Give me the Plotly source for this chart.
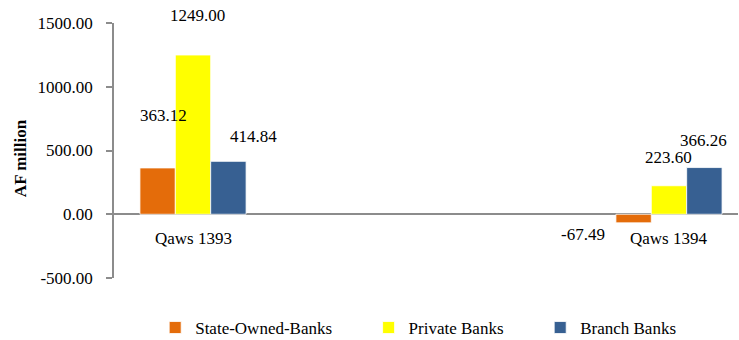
import plotly.graph_objects as go

# data
periods = ["Qaws 1393", "Qaws 1394"]
state_owned = [363.12, -67.49]
private_banks = [1249.00, 223.60]
branch_banks = [414.84, 366.26]
series_names = ["State-Owned-Banks", "Private Banks", "Branch Banks"]
tick_vals = [-500, 0, 500, 1000, 1500]
tick_text = ["-500.00", "0.00", "500.00", "1000.00", "1500.00"]

colors = ["#E46C0A", "#FFFF00", "#376092"]
series = [state_owned, private_banks, branch_banks]

# label nudges (px) so the value labels sit where the original has them
label_dx = [[-30, -86], [4, 0], [60, 35]]
label_dy = [[52, -12], [40, 28], [25, 27]]

FONT = "Liberation Serif, Times New Roman, serif"
FS = 17

fig = go.Figure()
legend_ids = ["legend", "legend2", "legend3"]
for i, name in enumerate(series_names):
    fig.add_trace(go.Bar(
        name=name,
        x=periods,
        y=series[i],
        marker=dict(color=colors[i], line=dict(color="white", width=0.8)),
        legend=legend_ids[i],
        showlegend=True,
    ))

annotations = []
for i in range(len(series)):
    for j, p in enumerate(periods):
        annotations.append(dict(
            x=p, y=series[i][j], xref="x", yref="y",
            text="%.2f" % series[i][j], showarrow=False,
            xshift=label_dx[i][j], yshift=label_dy[i][j],
            font=dict(family=FONT, size=FS, color="black")))

# category labels sit just under the zero line
for p in periods:
    annotations.append(dict(
        x=p, y=0, xref="x", yref="y", text=p, showarrow=False,
        yshift=-24, font=dict(family=FONT, size=FS, color="black")))

# y axis title (pixel spot converted to paper coords)
annotations.append(dict(
    x=(20 - 114) / 625, y=(278 - 158) / 255, xref="paper", yref="paper",
    xanchor="center", yanchor="middle", text="<b>AF million</b>",
    showarrow=False, textangle=-90, font=dict(family=FONT, size=FS, color="black")))

fig.update_layout(
    width=739, height=340,
    margin=dict(l=114, r=1, t=23, b=62, autoexpand=False),
    paper_bgcolor="white", plot_bgcolor="white",
    barmode="group", bargap=0.777, bargroupgap=0,
    showlegend=True,
    font=dict(family=FONT, size=FS, color="black"),
    annotations=annotations,
    xaxis=dict(type="category", range=[-0.166, 1.145], showticklabels=False,
               showline=False, showgrid=False, ticks=""),
    yaxis=dict(range=[-500, 1500], tickvals=tick_vals, ticktext=tick_text,
               showgrid=False, showline=True, linecolor="#8c8c8c", linewidth=1.5,
               ticks="outside", ticklen=6, tickcolor="#8c8c8c", tickwidth=1.5,
               zeroline=True, zerolinecolor="#8c8c8c", zerolinewidth=2,
               ticklabelstandoff=10, tickfont=dict(family=FONT, size=FS, color="black")),
)

legend_x = [0.066, 0.408, 0.683]
for i, lid in enumerate(legend_ids):
    fig.update_layout({lid: dict(x=legend_x[i], y=-0.196, xanchor="left", yanchor="middle",
                                 orientation="h", bgcolor="rgba(0,0,0,0)",
                                 font=dict(family=FONT, size=FS, color="black"))})

fig.write_html("out.html", config={"displayModeBar": False})

# drop the browser's default 8px body margin so the chart fills the window
with open("out.html", encoding="utf-8") as f:
    html = f.read()
html = html.replace("<body>", '<body style="margin:0;overflow:hidden">', 1)
with open("out.html", "w", encoding="utf-8") as f:
    f.write(html)
